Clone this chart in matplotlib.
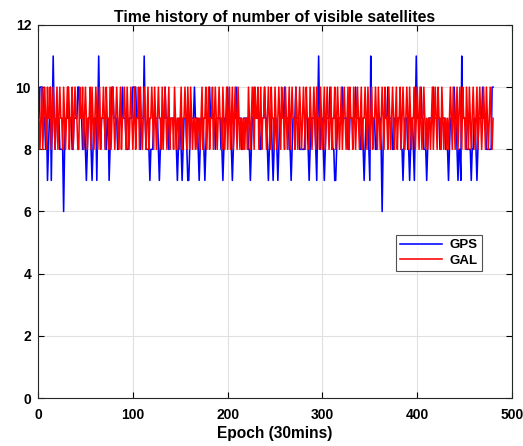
import matplotlib
matplotlib.use("Agg")
import matplotlib.pyplot as plt
import numpy as np

plt.rcParams['font.family'] = ['Liberation Sans', 'DejaVu Sans']

title = "Time history of number of visible satellites"
xlabel = "Epoch (30mins)"
series_names = ["GPS", "GAL"]
xticks = [0, 100, 200, 300, 400, 500]
yticks = [0, 2, 4, 6, 8, 10, 12]

gps = [
    9,10,10,10,10,9,9,8,9,7,8,9,10,7,9,11,9,8,9,9,
    9,9,8,8,8,8,6,8,9,9,9,10,9,9,9,8,8,9,9,9,
    9,10,10,9,9,9,8,8,9,8,7,8,9,9,9,8,7,8,9,9,
    9,7,9,11,9,8,9,9,9,9,8,8,9,9,7,8,9,10,10,9,
    9,9,9,8,8,9,9,9,10,9,9,9,8,8,8,9,9,9,9,10,
    10,10,10,9,9,9,9,8,9,9,9,11,9,8,8,8,8,7,8,8,
    8,9,9,9,9,9,8,7,8,9,9,9,9,10,9,9,9,8,8,9,
    9,9,9,9,9,8,7,8,9,9,8,7,8,9,9,9,8,7,7,8,
    9,9,9,9,10,9,9,9,8,7,8,9,9,9,8,7,8,9,9,9,
    10,9,9,9,9,9,8,9,9,9,9,9,8,8,7,8,9,9,9,10,
    9,9,9,8,7,8,9,9,10,9,9,9,9,9,8,8,9,9,9,9,
    9,8,8,7,8,9,9,10,9,9,9,9,9,8,8,9,9,9,10,9,
    9,8,7,8,9,9,8,7,8,9,9,8,7,8,9,9,9,9,9,10,
    9,9,9,9,8,8,7,8,9,9,9,10,9,9,9,8,8,8,8,8,
    8,9,9,9,8,7,8,9,9,9,9,9,8,7,9,11,9,8,9,9,
    8,7,8,9,9,9,9,10,9,9,8,8,7,7,8,9,9,9,9,9,
    10,9,9,9,9,9,8,8,9,9,9,9,9,9,10,9,9,9,9,8,
    8,9,8,7,8,9,9,9,8,7,11,9,9,9,9,8,8,9,9,9,
    9,8,6,8,9,9,9,9,10,9,9,9,9,8,8,9,9,9,9,9,
    9,9,8,8,7,8,9,9,9,8,8,7,8,9,9,8,7,9,11,9,
    9,9,9,10,9,9,8,8,8,7,8,9,9,9,9,9,10,9,9,9,
    9,9,9,8,8,9,9,9,9,8,8,8,7,8,9,9,9,9,10,9,
    9,8,7,8,8,7,11,9,9,9,9,8,8,8,8,8,7,8,8,9,
    9,8,7,8,9,9,9,9,10,9,9,9,8,8,8,8,8,8,10,10,
]

gal = [
    9,8,9,10,8,9,10,9,8,10,9,9,10,8,9,10,9,8,9,10,
    8,9,10,9,9,8,10,9,8,9,10,10,8,9,9,10,8,9,10,9,
    9,8,8,10,9,9,10,8,9,10,9,8,9,9,10,8,10,9,8,9,
    10,9,8,9,10,8,9,9,10,9,8,10,9,9,8,10,8,9,10,9,
    8,9,10,9,8,9,10,8,9,9,10,9,8,10,9,8,9,10,9,8,
    9,10,8,9,9,10,8,10,9,8,9,10,9,8,9,10,8,9,9,10,
    9,8,10,9,8,9,10,9,9,8,10,8,9,10,9,8,9,10,8,9,
    9,9,8,10,9,8,9,9,8,9,10,8,9,9,10,9,8,10,9,8,
    10,9,8,9,9,8,9,8,9,9,8,9,10,8,9,9,10,8,9,10,
    8,9,9,10,8,9,10,9,8,9,10,9,9,8,10,9,8,9,10,8,
    9,10,8,9,10,8,9,10,9,8,10,9,8,9,9,8,9,8,9,9,
    8,10,9,8,9,10,9,8,10,9,9,10,8,9,10,8,9,9,10,9,
    8,9,10,9,8,10,9,9,8,10,9,8,9,10,9,8,10,9,9,8,
    10,9,8,9,10,8,9,10,9,9,8,10,9,8,9,10,9,8,9,10,
    9,8,10,9,9,8,10,9,8,9,10,9,8,10,9,9,8,10,9,8,
    9,10,8,9,10,9,8,9,10,8,9,9,10,8,9,10,9,8,9,10,
    8,9,10,9,8,9,10,8,10,9,9,8,10,9,8,9,10,9,8,9,
    10,8,9,9,10,9,8,10,9,8,9,10,8,9,9,10,9,8,10,9,
    8,9,10,9,8,10,9,9,8,10,9,8,9,10,9,8,9,10,8,9,
    9,10,8,9,10,9,8,9,10,9,8,10,9,8,9,9,10,8,9,10,
    9,8,10,9,8,9,10,9,8,9,8,9,9,8,9,10,8,9,10,9,
    8,10,9,9,8,10,9,8,9,9,8,9,8,9,10,9,8,10,9,8,
    9,10,8,9,10,9,8,10,9,9,8,10,9,8,10,9,8,9,10,9,
    8,9,10,8,9,10,9,8,9,10,9,8,10,9,8,9,10,9,8,9,
]

epochs = np.arange(1, len(gps) + 1)

fig = plt.figure(figsize=(5.23, 4.46), dpi=100)
ax = fig.add_axes([0.0727, 0.1076, 0.9063, 0.8364])

ax.plot(epochs, gps, color=(0, 0, 1), lw=1.15, label=series_names[0])
ax.plot(epochs, gal, color=(1, 0, 0), lw=1.15, label=series_names[1])

ax.set_xlim(0, 500)
ax.set_ylim(0, 12)
ax.set_xticks(xticks)
ax.set_yticks(yticks)
ax.grid(True, color=(0.88, 0.88, 0.88), lw=0.8)
ax.set_axisbelow(True)
ax.tick_params(direction='in', top=True, right=True, length=4, width=0.8,
               labelsize=10, pad=5)
ax.tick_params(axis='x', pad=7)
for lab in ax.get_xticklabels() + ax.get_yticklabels():
    lab.set_fontweight('bold')
for s in ax.spines.values():
    s.set_linewidth(0.8)
    s.set_color((0.15, 0.15, 0.15))

ax.set_title(title, fontsize=11.4, fontweight='bold', pad=2)
ax.set_xlabel(xlabel, fontsize=11.2, fontweight='bold', labelpad=3)

leg = ax.legend(loc='upper left', bbox_to_anchor=(0.755, 0.437),
                prop={'weight': 'bold', 'size': 9.5}, frameon=True,
                fancybox=False, handlelength=3.2, borderpad=0.3,
                labelspacing=0.25, handletextpad=0.6, borderaxespad=0)
leg.get_frame().set_edgecolor((0.15, 0.15, 0.15))
leg.get_frame().set_linewidth(0.8)

fig.savefig("out.png", dpi=100)
